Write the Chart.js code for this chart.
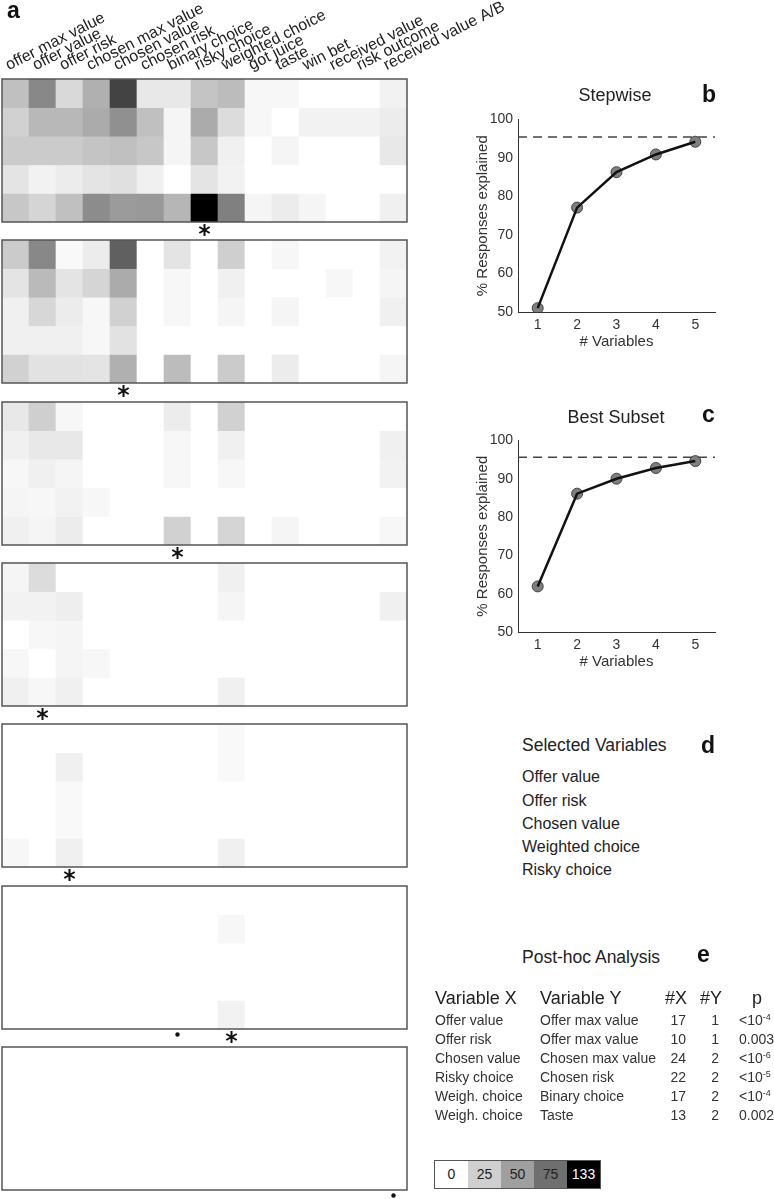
<!DOCTYPE html>
<html>
<head>
<meta charset="utf-8">
<title>Encoding of task variables</title>
<script src="https://cdn.jsdelivr.net/npm/chart.js@4.4.1/dist/chart.umd.min.js"></script>
<style>
  html, body { margin: 0; padding: 0; background: #fff; }
  body { width: 774px; height: 1199px; position: relative; overflow: hidden;
         font-family: Arial, "Liberation Sans", Helvetica, sans-serif; color: #222; }
  canvas { position: absolute; }
  .txt { position: absolute; white-space: nowrap; line-height: 1; }
  .sup { position: relative; top: -5px; font-size: 9px; }
  #scale { position: absolute; left: 434px; top: 1160px; display: flex; border: 1px solid #555; }
  #scale div { width: 33px; height: 27px; line-height: 27px; text-align: center; font-size: 14px; }
</style>
</head>
<body>
<script>
// variables along the columns of every block
const columnLabels = ['offer max value', 'offer value', 'offer risk', 'chosen max value', 'chosen value',
  'chosen risk', 'binary choice', 'risky choice', 'weighted choice', 'got juice', 'taste', 'win bet',
  'received value', 'risk outcome', 'received value A/B'];

const maxCount = 133;

// counts per block (5 rows x 15 columns), one block per selection step
const step1 = [
  [33, 62, 20, 41, 98, 12, 12, 31, 35, 4, 4, 0, 0, 0, 7],
  [24, 37, 37, 44, 58, 33, 5, 44, 18, 4, 0, 7, 7, 7, 10],
  [27, 27, 27, 31, 33, 29, 5, 29, 8, 0, 5, 0, 0, 0, 12],
  [14, 7, 10, 14, 16, 8, 0, 14, 7, 0, 0, 0, 0, 0, 0],
  [29, 22, 33, 60, 52, 53, 38, 133, 66, 5, 10, 5, 0, 0, 8]
];
const step2 = [
  [27, 62, 3, 10, 83, 0, 14, 0, 25, 0, 4, 0, 0, 0, 7],
  [14, 36, 14, 22, 44, 0, 4, 0, 8, 0, 0, 0, 4, 0, 5],
  [8, 21, 10, 4, 24, 0, 4, 0, 5, 0, 5, 0, 0, 0, 8],
  [8, 8, 8, 4, 15, 0, 0, 0, 0, 0, 0, 0, 0, 0, 0],
  [24, 15, 15, 14, 41, 0, 35, 0, 27, 0, 10, 0, 0, 0, 5]
];
const step3 = [
  [12, 25, 4, 0, 0, 0, 10, 0, 24, 0, 0, 0, 0, 0, 0],
  [8, 12, 12, 0, 0, 0, 4, 0, 8, 0, 0, 0, 0, 0, 8],
  [4, 8, 5, 0, 0, 0, 4, 0, 4, 0, 0, 0, 0, 0, 7],
  [5, 4, 7, 4, 0, 0, 0, 0, 0, 0, 0, 0, 0, 0, 0],
  [8, 5, 10, 0, 0, 0, 24, 0, 22, 0, 5, 0, 0, 0, 4]
];
const step4 = [
  [5, 18, 0, 0, 0, 0, 0, 0, 8, 0, 0, 0, 0, 0, 0],
  [7, 7, 9, 0, 0, 0, 0, 0, 5, 0, 0, 0, 0, 0, 8],
  [0, 4, 5, 0, 0, 0, 0, 0, 0, 0, 0, 0, 0, 0, 0],
  [4, 0, 5, 4, 0, 0, 0, 0, 0, 0, 0, 0, 0, 0, 0],
  [8, 4, 8, 0, 0, 0, 0, 0, 8, 0, 0, 0, 0, 0, 0]
];
const step5 = [
  [0, 0, 0, 0, 0, 0, 0, 0, 3, 0, 0, 0, 0, 0, 0],
  [0, 0, 8, 0, 0, 0, 0, 0, 3, 0, 0, 0, 0, 0, 0],
  [0, 0, 3, 0, 0, 0, 0, 0, 0, 0, 0, 0, 0, 0, 0],
  [0, 0, 3, 0, 0, 0, 0, 0, 0, 0, 0, 0, 0, 0, 0],
  [4, 0, 8, 0, 0, 0, 0, 0, 8, 0, 0, 0, 0, 0, 0]
];
const step6 = [
  [0, 0, 0, 0, 0, 0, 0, 0, 0, 0, 0, 0, 0, 0, 0],
  [0, 0, 0, 0, 0, 0, 0, 0, 4, 0, 0, 0, 0, 0, 0],
  [0, 0, 0, 0, 0, 0, 0, 0, 0, 0, 0, 0, 0, 0, 0],
  [0, 0, 0, 0, 0, 0, 0, 0, 0, 0, 0, 0, 0, 0, 0],
  [0, 0, 0, 0, 0, 0, 0, 0, 7, 0, 0, 0, 0, 0, 0]
];
const step7 = [
  [0, 0, 0, 0, 0, 0, 0, 0, 0, 0, 0, 0, 0, 0, 0],
  [0, 0, 0, 0, 0, 0, 0, 0, 0, 0, 0, 0, 0, 0, 0],
  [0, 0, 0, 0, 0, 0, 0, 0, 0, 0, 0, 0, 0, 0, 0],
  [0, 0, 0, 0, 0, 0, 0, 0, 0, 0, 0, 0, 0, 0, 0],
  [0, 0, 0, 0, 0, 0, 0, 0, 0, 0, 0, 0, 0, 0, 0]
];

// marks under each block: column index and kind
const markCols = [[7], [4], [6], [1], [2], [6, 8], [14]];
const markKinds = [['star'], ['star'], ['star'], ['star'], ['star'], ['dot', 'star'], ['dot']];

// panels b and c
const nVariables = [1, 2, 3, 4, 5];
const xRange = [0.5, 5.5];
const yTicks = [50, 60, 70, 80, 90, 100];
const stepwise = [51, 77.1, 86.3, 90.9, 94.2];
const bestSubset = [61.9, 86.1, 90, 92.8, 94.6];
const fullStepwise = 95.4;
const fullBest = 95.6;

// panel d
const selectedVars = ['Offer value', 'Offer risk', 'Chosen value', 'Weighted choice', 'Risky choice'];

// panel e
const postX = ['Offer value', 'Offer risk', 'Chosen value', 'Risky choice', 'Weigh. choice', 'Weigh. choice'];
const postY = ['Offer max value', 'Offer max value', 'Chosen max value', 'Chosen risk', 'Binary choice', 'Taste'];
const postNX = [17, 10, 24, 22, 17, 13];
const postNY = [1, 1, 2, 2, 2, 2];
const postP = ['<10^-4', '0.003', '<10^-6', '<10^-5', '<10^-4', '0.002'];

const scaleValues = [0, 25, 50, 75, 133];

Chart.defaults.font.family = 'Arial, "Liberation Sans", Helvetica, sans-serif';

function grayFor(v) {
  const g = Math.round(255 * (1 - Math.min(v, maxCount) / maxCount));
  return 'rgb(' + g + ',' + g + ',' + g + ')';
}

function makeCanvas(left, top, w, h) {
  const c = document.createElement('canvas');
  c.width = w;
  c.height = h;
  c.style.left = left + 'px';
  c.style.top = top + 'px';
  document.body.appendChild(c);
  return c;
}

function addText(text, x, baseline, size, opts) {
  opts = opts || {};
  const d = document.createElement('div');
  d.className = 'txt';
  d.innerHTML = text;
  d.style.fontSize = size + 'px';
  d.style.top = (baseline - 0.8465 * size).toFixed(1) + 'px';
  const align = opts.align || 'left';
  if (align === 'left') {
    d.style.left = x + 'px';
  } else {
    d.style.width = '300px';
    d.style.textAlign = align;
    d.style.left = (align === 'center' ? x - 150 : x - 300) + 'px';
  }
  if (opts.bold) d.style.fontWeight = 'bold';
  if (opts.color) d.style.color = opts.color;
  document.body.appendChild(d);
}

// frame round each block
const frame = {
  id: 'frame',
  afterDatasetsDraw(chart) {
    const { ctx, chartArea: a } = chart;
    ctx.save();
    ctx.strokeStyle = '#555';
    ctx.lineWidth = 1.5;
    ctx.strokeRect(a.left, a.top, a.right - a.left, a.bottom - a.top);
    ctx.restore();
  }
};

// asterisk / dot under the selected column
function markers(cols, kinds) {
  return {
    id: 'marks',
    afterDraw(chart) {
      const ctx = chart.ctx;
      const area = chart.chartArea;
      ctx.save();
      ctx.strokeStyle = '#111';
      ctx.fillStyle = '#111';
      ctx.lineWidth = 2;
      cols.forEach((c, i) => {
        const px = chart.scales.x.getPixelForValue(c);
        if (kinds[i] === 'dot') {
          ctx.beginPath();
          ctx.arc(px, area.bottom + 5.5, 2.2, 0, Math.PI * 2);
          ctx.fill();
        } else {
          const py = area.bottom + 8, r = 6;
          ctx.beginPath();
          [90, 30, 150].forEach(deg => {
            const a = deg * Math.PI / 180;
            ctx.moveTo(px - r * Math.cos(a), py - r * Math.sin(a));
            ctx.lineTo(px + r * Math.cos(a), py + r * Math.sin(a));
          });
          ctx.stroke();
        }
      });
      ctx.restore();
    }
  };
}

const steps = [step1, step2, step3, step4, step5, step6, step7];

steps.forEach((block, b) => {
  const top = Math.round(79 + b * 161.3);
  const first = b === 0;
  const canvas = first ? makeCanvas(0, 0, 527, 240) : makeCanvas(0, top - 2, 409, 163);
  new Chart(canvas, {
    type: 'bar',
    data: {
      labels: columnLabels,
      datasets: block.map((row, r) => ({
        data: row.map(() => [r, r + 1]),
        backgroundColor: row.map(grayFor),
        borderWidth: 0,
        grouped: false,
        barPercentage: 1,
        categoryPercentage: 1
      }))
    },
    options: {
      animation: false,
      responsive: false,
      events: [],
      layout: { padding: first ? { top: 0, left: 2, right: 120, bottom: 18 } : { top: 2, left: 2, right: 2, bottom: 18 } },
      plugins: { legend: { display: false }, tooltip: { enabled: false } },
      scales: {
        x: {
          display: first,
          position: 'top',
          grid: { display: false, drawTicks: false },
          border: { display: false },
          ticks: { autoSkip: false, minRotation: 27, maxRotation: 27, padding: 4, color: '#222', font: { size: 16 } },
          afterFit: s => { s.height = first ? 79 : 0; }
        },
        y: { display: false, min: 0, max: 5, reverse: true }
      }
    },
    plugins: [frame, markers(markCols[b], markKinds[b])]
  });
});

function lineChart(canvas, values, full) {
  const pts = nVariables.map((n, i) => ({ x: n, y: values[i] }));
  return new Chart(canvas, {
    type: 'scatter',
    data: {
      datasets: [
        { data: [{ x: xRange[0], y: full }, { x: xRange[1], y: full }], showLine: true,
          borderColor: '#444', borderWidth: 1.5, borderDash: [9, 6], pointRadius: 0, order: 3 },
        { data: pts, showLine: false, pointRadius: 5.5, pointBackgroundColor: 'rgba(95,95,95,0.8)',
          pointBorderColor: 'rgba(55,55,55,0.9)', pointBorderWidth: 1, order: 2 },
        { data: pts, showLine: true, borderColor: '#111', borderWidth: 2.5, pointRadius: 0, order: 1 }
      ]
    },
    options: {
      animation: false,
      responsive: false,
      events: [],
      layout: { padding: { top: 12, right: 59, left: 0, bottom: 0 } },
      plugins: { legend: { display: false }, tooltip: { enabled: false } },
      scales: {
        x: {
          type: 'linear', min: xRange[0], max: xRange[1],
          afterBuildTicks: s => { s.ticks = nVariables.map(v => ({ value: v })); },
          afterFit: s => { s.height = 39; },
          grid: { display: false, drawTicks: false },
          border: { color: '#333', width: 1 },
          ticks: { color: '#333', padding: 5, font: { size: 14 } },
          title: { display: true, text: '# Variables', color: '#333', font: { size: 15 }, padding: 0 }
        },
        y: {
          min: 50, max: 100,
          afterBuildTicks: s => { s.ticks = yTicks.map(v => ({ value: v })); },
          afterFit: s => { s.width = 50; },
          grid: { display: false, drawTicks: false },
          border: { color: '#333', width: 1 },
          ticks: { color: '#333', padding: 5, font: { size: 14 } },
          title: { display: true, text: '% Responses explained', color: '#333', font: { size: 15 }, padding: { top: 6, bottom: 0 } }
        }
      }
    }
  });
}

lineChart(makeCanvas(468, 106, 306, 245), stepwise, fullStepwise);
lineChart(makeCanvas(468, 427, 306, 244), bestSubset, fullBest);

// panel letters and titles
addText('a', 7, 18, 23, { bold: true, color: '#111' });
addText('b', 702, 102, 23, { bold: true, color: '#111' });
addText('c', 702, 422, 23, { bold: true, color: '#111' });
addText('d', 701, 753, 23, { bold: true, color: '#111' });
addText('e', 697, 962, 23, { bold: true, color: '#111' });
addText('Stepwise', 615, 100.7, 18, { align: 'center' });
addText('Best Subset', 616, 423.3, 18, { align: 'center' });

addText('Selected Variables', 522, 751.7, 17.5);
selectedVars.forEach((v, i) => addText(v, 522, 782.7 + i * 23.3, 16));

addText('Post-hoc Analysis', 522, 963.3, 17.5);
addText('Variable X', 435, 1004, 18);
addText('Variable Y', 540, 1004, 18);
addText('#X', 665, 1004, 18);
addText('#Y', 700, 1004, 18);
addText('p', 757, 1004, 18, { align: 'center' });

function pText(p) {
  const parts = p.split('^');
  return parts.length > 1 ? '&lt;10<span class="sup">' + parts[1] + '</span>' : p;
}
postX.forEach((x, i) => {
  const base = 1025 + i * 19;
  addText(x, 435, base, 14, { color: '#333' });
  addText(postY[i], 540, base, 14, { color: '#333' });
  addText(String(postNX[i]), 686, base, 14, { align: 'right', color: '#333' });
  addText(String(postNY[i]), 719, base, 14, { align: 'right', color: '#333' });
  addText(pText(postP[i]), 739, base, 14, { color: '#333' });
});

// colour scale
const scaleBox = document.createElement('div');
scaleBox.id = 'scale';
scaleValues.forEach(v => {
  const cell = document.createElement('div');
  cell.textContent = v;
  cell.style.background = grayFor(v);
  cell.style.color = v > 100 ? '#fff' : '#222';
  scaleBox.appendChild(cell);
});
document.body.appendChild(scaleBox);
</script>
</body>
</html>
